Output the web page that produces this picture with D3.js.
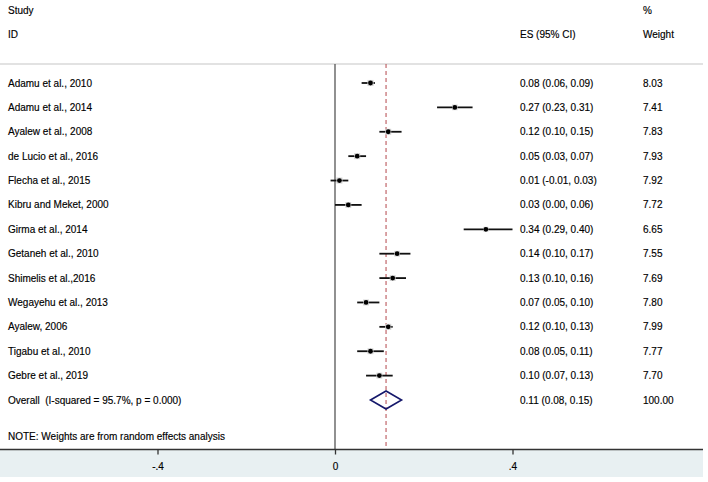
<!DOCTYPE html>
<html>
<head>
<meta charset="UTF-8">
<title>Forest plot</title>
<script src="https://d3js.org/d3.v7.min.js"></script>
<style>
  body { margin: 0; background: #fff; }
  text { font-family: "Liberation Sans", Arial, sans-serif; font-size: 10px; fill: #000; white-space: pre;
         stroke: #000; stroke-width: 0.15px; }
</style>
</head>
<body>
<div id="chart"></div>
<script>
    // study data
    var studies = ["Adamu et al., 2010", "Adamu et al., 2014", "Ayalew et al., 2008", "de Lucio et al., 2016",
        "Flecha et al., 2015", "Kibru and Meket, 2000", "Girma et al., 2014", "Getaneh et al., 2010",
        "Shimelis et al.,2016", "Wegayehu et al., 2013", "Ayalew, 2006", "Tigabu et al., 2010", "Gebre et al., 2019"];
    var es     = [0.08, 0.27, 0.12, 0.05, 0.01, 0.03, 0.34, 0.14, 0.13, 0.07, 0.12, 0.08, 0.10];
    var lower  = [0.06, 0.23, 0.10, 0.03, -0.01, 0.00, 0.29, 0.10, 0.10, 0.05, 0.10, 0.05, 0.07];
    var upper  = [0.09, 0.31, 0.15, 0.07, 0.03, 0.06, 0.40, 0.17, 0.16, 0.10, 0.13, 0.11, 0.13];
    var weights = [8.03, 7.41, 7.83, 7.93, 7.92, 7.72, 6.65, 7.55, 7.69, 7.80, 7.99, 7.77, 7.70];

    var overallLabel = "Overall  (I-squared = 95.7%, p = 0.000)";
    var overall = {es: 0.115, lower: 0.08, upper: 0.15, text: "0.11 (0.08, 0.15)", weight: "100.00"};
    var xTicks = [-0.4, 0, 0.4];

    var W = 708, H = 482;
    var svg = d3.select("#chart").append("svg")
        .attr("width", W)
        .attr("height", H);

    // plain hyphen instead of unicode minus, like the original
    var f2 = function(v) { return d3.format(".2f")(v).replace("\u2212", "-"); };
    var rows = studies.concat([overallLabel]);

    var x = d3.scaleLinear().domain([-0.4, 0.4]).range([157.5, 512.5]);
    var y = d3.scalePoint().domain(rows).range([83, 400]);

    var topY = 64, axisY = 449.5;

    // bottom band
    svg.append("rect")
        .attr("x", 0).attr("y", axisY).attr("width", 703).attr("height", 477 - axisY)
        .attr("fill", "#e8f0f2");

    // header
    svg.append("text").attr("x", 8).attr("y", 14).text("Study");
    svg.append("text").attr("x", 8).attr("y", 38).text("ID");
    svg.append("text").attr("x", 520).attr("y", 38).text("ES (95% CI)");
    svg.append("text").attr("x", 643).attr("y", 14).text("%");
    svg.append("text").attr("x", 643).attr("y", 38).text("Weight");

    svg.append("line")
        .attr("x1", 0).attr("x2", 703).attr("y1", topY).attr("y2", topY)
        .attr("stroke", "#d9d9d9").attr("stroke-width", 1.5);

    // null line and overall line
    svg.append("line")
        .attr("x1", x(0)).attr("x2", x(0)).attr("y1", topY).attr("y2", axisY)
        .attr("stroke", "#555").attr("stroke-width", 1.3);
    svg.append("line")
        .attr("x1", x(overall.es)).attr("x2", x(overall.es)).attr("y1", topY).attr("y2", axisY)
        .attr("stroke", "#b5474b").attr("stroke-width", 1)
        .attr("stroke-dasharray", "4,3");

    // study rows
    var g = svg.selectAll("g.row")
        .data(studies.map(function(s, i) {
            return {name: s, es: es[i], lo: lower[i], hi: upper[i], w: weights[i]};
        }))
        .enter().append("g").attr("class", "row");

    g.append("text").attr("x", 8).attr("y", function(d) { return y(d.name) + 3.5; })
        .text(function(d) { return d.name; });
    g.append("line")
        .attr("x1", function(d) { return x(d.lo); })
        .attr("x2", function(d) { return x(d.hi); })
        .attr("y1", function(d) { return y(d.name); })
        .attr("y2", function(d) { return y(d.name); })
        .attr("stroke", "#111").attr("stroke-width", 1.8);
    g.append("rect")
        .attr("x", function(d) { return x(d.es) - d.w * 0.38; })
        .attr("y", function(d) { return y(d.name) - d.w * 0.38; })
        .attr("width", function(d) { return d.w * 0.76; })
        .attr("height", function(d) { return d.w * 0.76; })
        .attr("fill", "#d4d4d4");
    g.append("circle")
        .attr("cx", function(d) { return x(d.es); })
        .attr("cy", function(d) { return y(d.name); })
        .attr("r", 2.4).attr("fill", "#000");
    g.append("text").attr("x", 520).attr("y", function(d) { return y(d.name) + 3.5; })
        .text(function(d) { return f2(d.es) + " (" + f2(d.lo) + ", " + f2(d.hi) + ")"; });
    g.append("text").attr("x", 643).attr("y", function(d) { return y(d.name) + 3.5; })
        .text(function(d) { return f2(d.w); });

    // overall
    var oy = y(overallLabel);
    svg.append("text").attr("x", 8).attr("y", oy + 3.5).text(overallLabel);
    svg.append("path")
        .attr("d", "M" + x(overall.lower) + "," + oy + "L" + x(overall.es) + "," + (oy - 9) +
            "L" + x(overall.upper) + "," + oy + "L" + x(overall.es) + "," + (oy + 9) + "Z")
        .attr("fill", "none").attr("stroke", "#15186b").attr("stroke-width", 1.6);
    svg.append("text").attr("x", 520).attr("y", oy + 3.5).text(overall.text);
    svg.append("text").attr("x", 643).attr("y", oy + 3.5).text(overall.weight);

    svg.append("text").attr("x", 8).attr("y", 439.5).text("NOTE: Weights are from random effects analysis");

    // axis
    svg.append("line")
        .attr("x1", 0).attr("x2", 703).attr("y1", axisY).attr("y2", axisY)
        .attr("stroke", "#333").attr("stroke-width", 1.5);
    var axis = svg.append("g")
        .attr("transform", "translate(0," + axisY + ")")
        .call(d3.axisBottom(x).tickValues(xTicks).tickSize(5).tickPadding(8)
            .tickFormat(function(d) { return d === 0 ? "0" : String(d).replace("0.", "."); }));
    axis.select(".domain").remove();
    axis.selectAll(".tick line").attr("stroke", "#333").attr("stroke-width", 1.3);
    axis.selectAll(".tick text").style("font-size", "10px").attr("fill", "#000");
</script>
</body>
</html>
